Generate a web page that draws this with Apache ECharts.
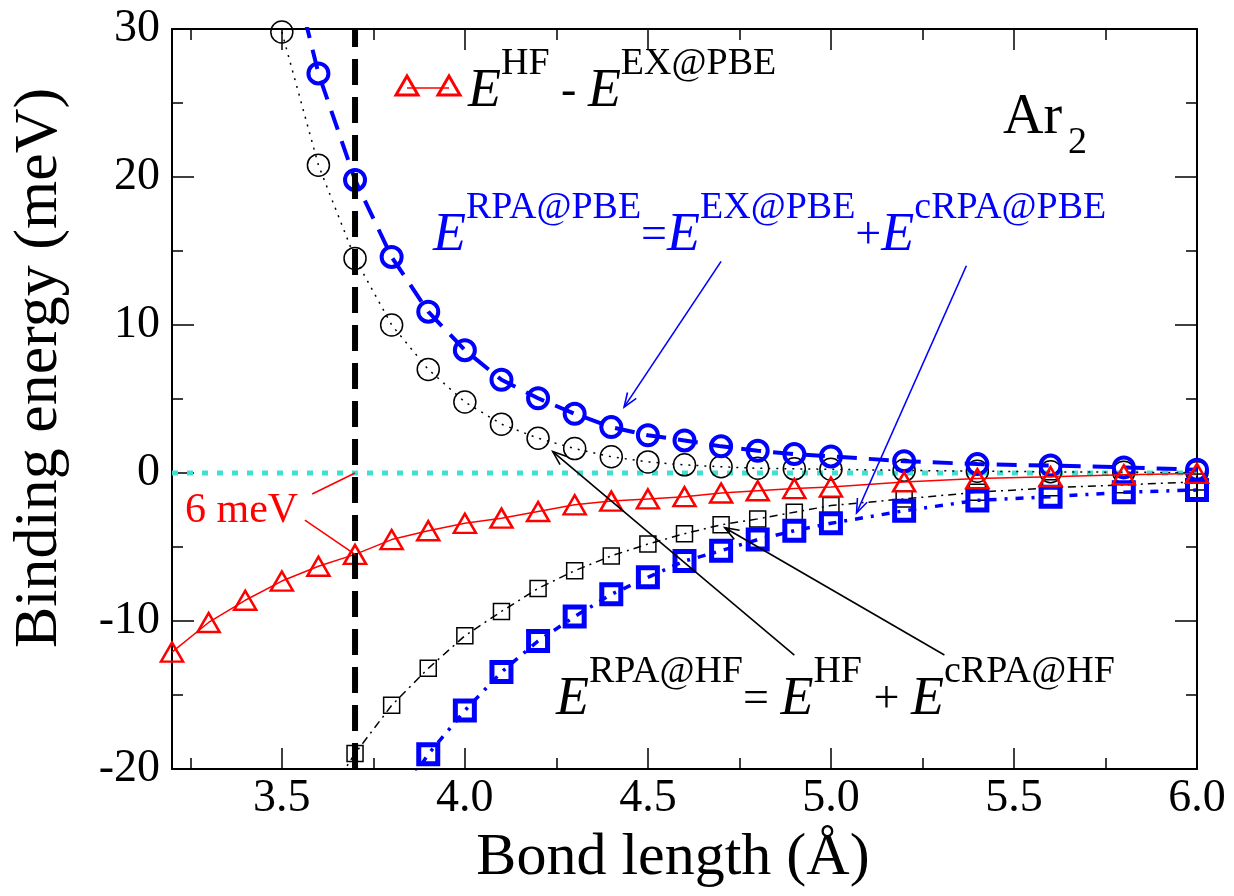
<!DOCTYPE html>
<html>
<head>
<meta charset="utf-8">
<script src="https://cdn.jsdelivr.net/npm/echarts@6/dist/echarts.min.js"></script>
<style>
  html, body { margin: 0; padding: 0; background: #ffffff; }
  #chart { width: 1234px; height: 896px; }
</style>
</head>
<body>
<div id="chart"></div>
<script>
// Ar2 binding-energy curves (meV) versus bond length (Å)

// E^HF (black circles) and E^EX@PBE (blue circles) share the same bond lengths
const R_EX = [3.5, 3.6, 3.7, 3.8, 3.9, 4.0, 4.1, 4.2, 4.3, 4.4, 4.5, 4.6, 4.7, 4.8, 4.9, 5.0, 5.2, 5.4, 5.6, 5.8, 6.0];
const E_HF = [29.8, 20.8, 14.5, 10.0, 7.0, 4.8, 3.3, 2.35, 1.65, 1.1, 0.75, 0.55, 0.42, 0.32, 0.28, 0.25, 0.18, 0.12, 0.08, 0.05, 0.03];
const E_EX_PBE = [37.0, 27.0, 19.8, 14.6, 10.9, 8.3, 6.3, 5.05, 4.0, 3.1, 2.55, 2.2, 1.8, 1.5, 1.28, 1.12, 0.8, 0.6, 0.5, 0.38, 0.22];

// E^HF - E^EX@PBE (red triangles)
const R_DIFF = [3.2, 3.3, 3.4, 3.5, 3.6, 3.7, 3.8, 3.9, 4.0, 4.1, 4.2, 4.3, 4.4, 4.5, 4.6, 4.7, 4.8, 4.9, 5.0, 5.2, 5.4, 5.6, 5.8, 6.0];
const E_DIFF = [-12.1, -10.1, -8.6, -7.3, -6.3, -5.5, -4.5, -3.9, -3.4, -3.05, -2.6, -2.15, -1.9, -1.75, -1.6, -1.35, -1.2, -1.05, -0.95, -0.6, -0.38, -0.25, -0.12, -0.03];

// E^cRPA@HF (black squares)
const R_CHF = [3.6, 3.7, 3.8, 3.9, 4.0, 4.1, 4.2, 4.3, 4.4, 4.5, 4.6, 4.7, 4.8, 4.9, 5.0, 5.2, 5.4, 5.6, 5.8, 6.0];
const E_CRPA_HF = [-22.8, -18.95, -15.7, -13.2, -11.0, -9.35, -7.8, -6.6, -5.6, -4.8, -4.1, -3.5, -3.1, -2.65, -2.2, -1.75, -1.3, -1.0, -0.8, -0.6];

// E^cRPA@PBE (blue squares)
const R_CPBE = [3.8, 3.9, 4.0, 4.1, 4.2, 4.3, 4.4, 4.5, 4.6, 4.7, 4.8, 4.9, 5.0, 5.2, 5.4, 5.6, 5.8, 6.0];
const E_CRPA_PBE = [-22.7, -19.0, -16.05, -13.45, -11.35, -9.7, -8.2, -7.05, -5.95, -5.25, -4.5, -3.9, -3.4, -2.55, -1.85, -1.6, -1.3, -1.15];

// Reference lines
const ZERO_LINE_R = [3.2, 6.0];
const ZERO_LINE_E = [0, 0];
const EQ_LINE_R = [3.7, 3.7];
const EQ_LINE_E = [-20, 30];

// Axis ticks
const X_MAJOR = [3.5, 4.0, 4.5, 5.0, 5.5, 6.0];
const X_MINOR = [3.25, 3.75, 4.25, 4.75, 5.25, 5.75];
const X_RANGE = [3.2, 6.0];
const Y_RANGE = [-20, 30];

const SERIF = "'Liberation Serif', 'DejaVu Serif', serif";
const BLUE = '#0000ff';
const RED = '#ff0000';
const CYAN = '#40e0d0';

function pairs(xs, ys) { return xs.map((x, i) => [x, ys[i]]); }

function curve(name, xs, ys, o) {
  return {
    type: 'line', name, data: pairs(xs, ys),
    symbol: o.symbol || 'none', symbolSize: o.size || 0, showSymbol: !!o.symbol,
    clip: true, silent: true, animation: false, z: o.z || 2,
    itemStyle: { color: 'rgba(0,0,0,0)', borderColor: o.color, borderWidth: o.bw || 0 },
    lineStyle: { color: o.color, width: o.lw, type: o.dash || 'solid', cap: 'butt' },
    emphasis: { disabled: true }
  };
}

function xAxisDef(position, values, len, showLine, showLabel) {
  return {
    type: 'value', position, min: X_RANGE[0], max: X_RANGE[1],
    axisLine: { show: showLine, onZero: false, lineStyle: { color: '#000', width: 2 } },
    axisTick: { show: true, inside: true, length: len, customValues: values, lineStyle: { color: '#000', width: 1.5 } },
    axisLabel: showLabel ? {
      show: true, customValues: values, margin: 7, color: '#000',
      fontFamily: SERIF, fontSize: 46, formatter: v => Number(v).toFixed(1)
    } : { show: false },
    splitLine: { show: false }
  };
}

function yAxisDef(position, showLabel) {
  return {
    type: 'value', position, min: Y_RANGE[0], max: Y_RANGE[1], interval: 10,
    axisLine: { show: true, onZero: false, lineStyle: { color: '#000', width: 2 } },
    axisTick: { show: true, inside: true, length: 22, lineStyle: { color: '#000', width: 1.5 } },
    minorTick: { show: true, splitNumber: 2, length: 11, lineStyle: { color: '#000', width: 1.5 } },
    axisLabel: showLabel ? { show: true, margin: 12, color: '#000', fontFamily: SERIF, fontSize: 46 } : { show: false },
    splitLine: { show: false }, minorSplitLine: { show: false }
  };
}

const option = {
  animation: false,
  backgroundColor: '#ffffff',
  grid: { left: 172, right: 37, top: 29, bottom: 127, containLabel: false },
  xAxis: [
    xAxisDef('bottom', X_MAJOR, 21, true, true),
    xAxisDef('bottom', X_MINOR, 11, false, false),
    xAxisDef('top', X_MAJOR, 21, true, false),
    xAxisDef('top', X_MINOR, 11, false, false)
  ],
  yAxis: [yAxisDef('left', true), yAxisDef('right', false)],
  series: [
    curve('zero', ZERO_LINE_R, ZERO_LINE_E, { color: CYAN, lw: 5, dash: [6, 9], z: 1 }),
    curve('E^HF', R_EX, E_HF, { symbol: 'circle', size: 22, color: '#000', bw: 1.5, lw: 1.5, dash: [2, 6], z: 2 }),
    curve('E^cRPA@HF', R_CHF, E_CRPA_HF, { symbol: 'rect', size: 16, color: '#000', bw: 1.5, lw: 1.5, dash: [8, 5, 2, 5], z: 2 }),
    curve('E^EX@PBE', R_EX, E_EX_PBE, { symbol: 'circle', size: 20, color: BLUE, bw: 4, lw: 4, dash: [20, 12], z: 3 }),
    curve('E^cRPA@PBE', R_CPBE, E_CRPA_PBE, { symbol: 'rect', size: 19, color: BLUE, bw: 5, lw: 3.5, dash: [8, 8, 3, 8], z: 3 }),
    curve('E^HF - E^EX@PBE', R_DIFF, E_DIFF, { symbol: 'triangle', size: [22, 19], color: RED, bw: 2.5, lw: 1.5, z: 4 }),
    curve('R_eq', EQ_LINE_R, EQ_LINE_E, { color: '#000', lw: 6, dash: [26, 12], z: 5 })
  ]
};

const chart = echarts.init(document.getElementById('chart'), null, { renderer: 'canvas', width: 1234, height: 896 });
chart.setOption(option);

const toPx = p => chart.convertToPixel({ xAxisIndex: 0, yAxisIndex: 0 }, p);

// Formula text: italic E with raised superscripts
const RICH = {
  E: { fontFamily: SERIF, fontStyle: 'italic', fontSize: 54, lineHeight: 94, verticalAlign: 'middle' },
  s: { fontFamily: SERIF, fontSize: 38, lineHeight: 38, verticalAlign: 'top' },
  o: { fontFamily: SERIF, fontSize: 46, lineHeight: 94, verticalAlign: 'middle' }
};

function formula(text, x, y, color) {
  return {
    type: 'text', x, y, silent: true, z: 20,
    style: { text, rich: RICH, fill: color, align: 'left', verticalAlign: 'middle', textAlign: 'left', textVerticalAlign: 'middle' }
  };
}

function plainText(text, x, y, size, color) {
  return {
    type: 'text', x, y, silent: true, z: 20,
    style: {
      text, fill: color, font: size + 'px ' + SERIF,
      align: 'left', verticalAlign: 'middle', textAlign: 'left', textVerticalAlign: 'middle'
    }
  };
}

function arrow(from, to, color) {
  const a = toPx(from), b = toPx(to);
  const dx = b[0] - a[0], dy = b[1] - a[1];
  const L = Math.hypot(dx, dy), ux = dx / L, uy = dy / L;
  const head = 15, ang = 0.36;
  const c = Math.cos(ang), s = Math.sin(ang);
  const p1 = [b[0] - head * (ux * c - uy * s), b[1] - head * (uy * c + ux * s)];
  const p2 = [b[0] - head * (ux * c + uy * s), b[1] - head * (uy * c - ux * s)];
  return [
    { type: 'line', silent: true, z: 15, shape: { x1: a[0], y1: a[1], x2: b[0], y2: b[1] }, style: { stroke: color, lineWidth: 1.6 } },
    { type: 'polyline', silent: true, z: 15, shape: { points: [p1, b, p2] }, style: { stroke: color, lineWidth: 1.6, fill: null } }
  ];
}

function segment(from, to, color, w) {
  const a = toPx(from), b = toPx(to);
  return { type: 'line', silent: true, z: 15, shape: { x1: a[0], y1: a[1], x2: b[0], y2: b[1] }, style: { stroke: color, lineWidth: w } };
}

function tri(cx, cy) {
  return {
    type: 'polygon', silent: true, z: 20,
    shape: { points: [[cx, cy - 10], [cx + 11, cy + 9], [cx - 11, cy + 9]] },
    style: { stroke: RED, lineWidth: 3, fill: null }
  };
}

const graphics = [
  // legend entry
  { type: 'line', silent: true, z: 19, shape: { x1: 407, y1: 88, x2: 449, y2: 88 }, style: { stroke: RED, lineWidth: 1.5 } },
  tri(407, 86), tri(449, 86),
  formula('{E|E}{s|HF}{o| - }{E|E}{s|EX@PBE}', 468, 92, '#000'),
  // molecule label
  plainText('Ar', 1003, 118, 56, '#000'),
  plainText('2', 1068, 143, 38, '#000'),
  // formulas
  formula('{E|E}{s|RPA@PBE}{o|=}{E|E}{s|EX@PBE}{o|+}{E|E}{s|cRPA@PBE}', 433, 236, BLUE),
  formula('{E|E}{s|RPA@HF}{o|= }{E|E}{s|HF}{o| + }{E|E}{s|cRPA@HF}', 556, 700, '#000'),
  // 6 meV gap annotation
  plainText('6 meV', 185, 511, 42, RED),
  segment([3.583, -1.42], [3.7, 0], RED, 1.6),
  segment([3.563, -3.18], [3.7, -5.5], RED, 1.6),
  ...arrow([4.70, 14.3], [4.435, 4.45], BLUE),
  ...arrow([5.37, 14.0], [5.07, -2.7], BLUE),
  ...arrow([4.90, -12.3], [4.24, 1.45], '#000'),
  ...arrow([5.31, -12.3], [4.71, -3.7], '#000'),
  // axis titles
  {
    type: 'text', x: 673, y: 858, silent: true, z: 20,
    style: { text: 'Bond length (Å)', fill: '#000', font: '60px ' + SERIF, align: 'center', verticalAlign: 'middle', textAlign: 'center', textVerticalAlign: 'middle' }
  },
  {
    type: 'text', x: 40, y: 368, rotation: Math.PI / 2, silent: true, z: 20,
    style: { text: 'Binding energy (meV)', fill: '#000', font: '62px ' + SERIF, align: 'center', verticalAlign: 'middle', textAlign: 'center', textVerticalAlign: 'middle' }
  }
];

chart.setOption({ graphic: graphics });
</script>
</body>
</html>
